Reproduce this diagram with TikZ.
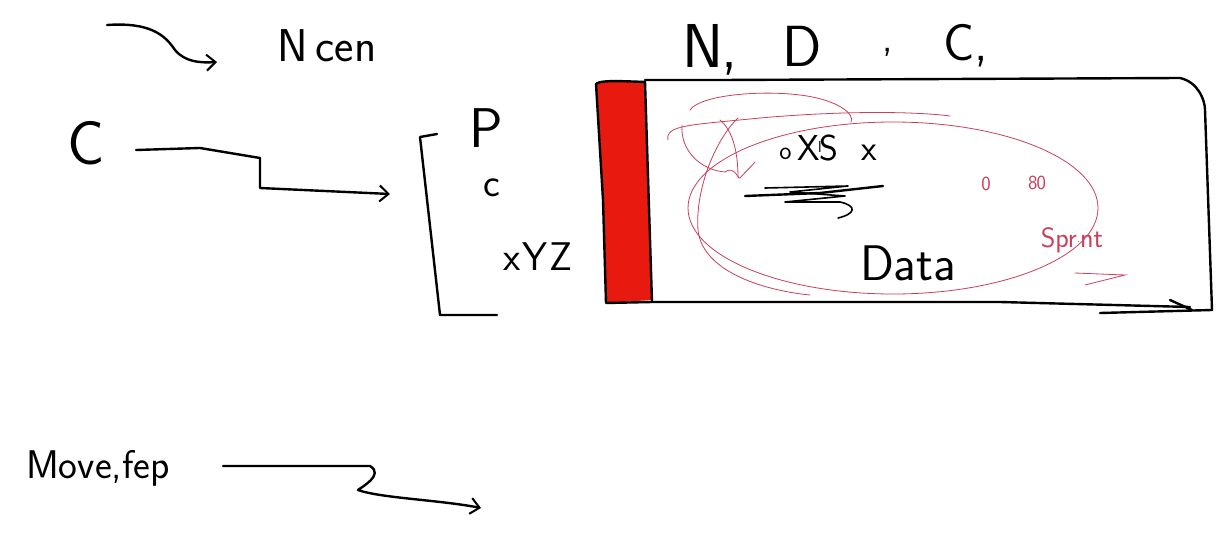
\documentclass[tikz,border=0pt]{standalone}
\usepackage{fontspec}
\setmainfont{DejaVu Sans}
\usetikzlibrary{arrows.meta}
\definecolor{stripred}{HTML}{E8190F}
\definecolor{penred}{HTML}{C8405A}
\tikzset{
  pen/.style={line width=2.4pt, line cap=round, line join=round, black},
  redpen/.style={line width=0.8pt, line cap=round, penred},
  hand/.style={inner sep=0pt},
  fs/.style={font=\fontsize{#1}{#1}\selectfont\sffamily},
  redhand/.style={text=penred, inner sep=0pt},
  barb/.style={-{Straight Barb[length=9pt,width=16pt,line width=2pt]}}
}
\begin{document}
\begin{tikzpicture}[x=1pt,y=-1pt]
\useasboundingbox (0,0) rectangle (1223,538);
\fill[white] (0,0) rectangle (1223,538);

% top left arrow to N cen
\coordinate (a1s) at (107,25);
\coordinate (a1e) at (217,62);
\draw[pen,barb] (a1s) .. controls (150,22) and (165,35) .. (175,50) .. controls (185,62) and (200,63) .. (a1e);
\node[hand,fs=46] (ncen) at (327,46) {N\,cen};

% top labels
\node[hand,fs=62] (n1) at (710,50) {N\kern-2pt,};
\node[hand,fs=58] (d1) at (802,46) {D};
\node[hand,fs=40] (comma1) at (888,52) {,};
\node[hand,fs=52] (c1) at (966,46) {C,};

% C and arrow
\node[hand,fs=62] (cc) at (86,143) {C};
\coordinate (a2s) at (136,150);
\coordinate (a2m1) at (260,158);
\coordinate (a2m2) at (260,188);
\coordinate (a2e) at (390,194);
\draw[pen,barb] (a2s) -- (200,148) -- (a2m1) -- (a2m2) -- (a2e);

% bracket list
\coordinate (b1) at (437,134);
\coordinate (b2) at (420,137);
\coordinate (b3) at (440,315);
\coordinate (b4) at (497,315);
\draw[pen] (b1) -- (b2) -- (b3) -- (b4);
\node[hand,fs=56] (pp) at (486,128) {P};
\node[hand,fs=40] (cs) at (492,188) {c};
\node[hand,fs=40] (xyz) at (538,257) {x\kern1pt Y\kern2pt Z};

% box
\fill[stripred] (596,84) .. controls (600,80) and (620,81) .. (645,82) -- (652,300) -- (606,303) -- (603,200) -- cycle;
\draw[pen] (596,84) .. controls (600,80) and (620,81) .. (645,82);
\draw[pen] (596,84) -- (603,200) -- (606,303) -- (652,302);
\draw[pen] (645,82) -- (652,302);
\draw[pen] (645,80) -- (720,80) -- (1180,78) .. controls (1198,82) and (1205,100) .. (1205,110) -- (1212,310) -- (1100,313);
\draw[pen] (652,302) -- (1000,302) -- (1190,307);
\draw[pen] (1170,300) -- (1192,310);

% inner content
\node[hand,fs=36] (oxls) at (828,148) {\raisebox{1pt}{\fontsize{26}{26}\selectfont o}\,X\kern-2pt\raisebox{8pt}{\fontsize{16}{16}\selectfont l}\kern-2pt S\ \ x};
\coordinate (s1) at (745,196);
\coordinate (s2) at (883,186);
\draw[pen] (s1) -- (820,193) -- (s2);
\draw[pen, line width=1.6pt] (765,188) -- (848,186) -- (790,192) -- (845,196) -- (785,202) -- (840,202) .. controls (858,206) and (855,214) .. (838,218);
\node[hand,fs=50] (data) at (908,263) {Data};

% red ellipse and scribbles
\draw[redpen] (893,208) ellipse [x radius=205, y radius=86];
\draw[redpen] (668,140) .. controls (665,125) and (690,125) .. (760,118) .. controls (850,110) and (920,112) .. (950,116);
\draw[redpen] (690,110) .. controls (700,95) and (760,90) .. (800,95) .. controls (840,100) and (855,115) .. (851,122);
\draw[redpen] (682,125) .. controls (680,150) and (700,170) .. (725,172) .. controls (735,165) and (738,180) .. (740,178) .. controls (745,172) and (750,168) .. (755,162);
\draw[redpen] (720,120) .. controls (732,130) and (738,150) .. (738,178);
\draw[redpen] (738,118) .. controls (715,140) and (695,190) .. (698,230) .. controls (702,270) and (760,290) .. (810,295);
\node[redhand,fs=20] (o1) at (986,184) {0};
\node[redhand,fs=20] (o2) at (1037,183) {8\kern-1pt 0};
\node[redhand,fs=28] (sprint) at (1072,240) {Sp\kern-1pt r\raisebox{5pt}{\fontsize{12}{12}\selectfont.}nt};
\coordinate (u1) at (1075,273);
\coordinate (u2) at (1125,275);
\coordinate (u3) at (1085,285);
\draw[redpen] (u1) -- (u2) -- (u3);

% Move, fep and bottom arrow
\node[hand,fs=40] (move) at (98,468) {Move,fep};
\coordinate (a3s) at (223,466);
\coordinate (a3e) at (481,508);
\draw[pen,barb] (a3s) -- (370,466) .. controls (385,475) and (360,488) .. (358,490) .. controls (380,498) and (440,500) .. (a3e);
\end{tikzpicture}
\end{document}
